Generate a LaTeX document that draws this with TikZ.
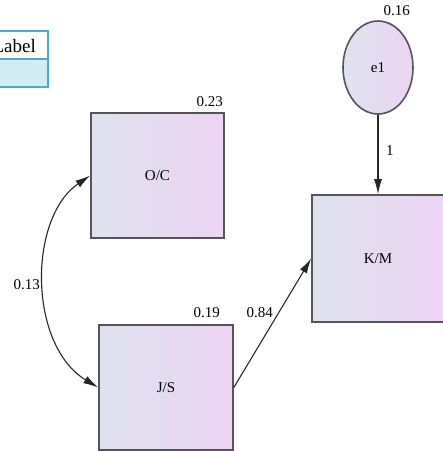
\documentclass[tikz,border=0pt]{standalone}
\usepackage{fontspec}
\setmainfont{Liberation Serif}
\usetikzlibrary{arrows.meta,shapes.geometric}
\definecolor{gradL}{HTML}{DEE2EE}
\definecolor{gradR}{HTML}{ECD4F2}
\definecolor{boxline}{HTML}{555558}
\definecolor{tabline}{HTML}{4BACC6}
\definecolor{tabfill}{HTML}{D3EBF2}
\tikzset{
  varbox/.style={rectangle, draw=boxline, line width=1.6pt, left color=gradL, right color=gradR, font=\fontsize{15}{18}\selectfont, inner sep=0pt},
  errnode/.style={ellipse, draw=boxline, line width=1.6pt, left color=gradL, right color=gradR, font=\fontsize{15}{18}\selectfont, inner sep=0pt, minimum width=70pt, minimum height=93pt},
  num/.style={font=\fontsize{15}{18}\selectfont, inner sep=0pt},
  conn/.style={draw=black!85, line width=1.1pt, -{Latex[length=15pt,width=8pt]}},
  biconn/.style={draw=black!85, line width=1.1pt, {Latex[length=15pt,width=8pt]}-{Latex[length=15pt,width=8pt]}},
  tabcell/.style={rectangle, draw=tabline, line width=2pt, minimum width=90pt, minimum height=28pt, inner sep=0pt, anchor=north east}
}
\begin{document}
\begin{tikzpicture}[x=1pt,y=-1pt]
\useasboundingbox (0,0) rectangle (443,451);
\clip (0,0) rectangle (443,451);
% label table
\node[tabcell, fill=white] (lhead) at (49,30) {};
\node[tabcell, fill=tabfill] (lcell) at (49,58) {};
\node[font=\fontsize{19}{22}\selectfont, inner sep=0pt, anchor=base east] (ltext) at (36,52) {Label};
% variables
\node[varbox, minimum width=133pt, minimum height=125pt] (OC) at (157.5,175.5) {O/C};
\node[varbox, minimum width=134pt, minimum height=125pt] (JS) at (166,387.5) {J/S};
\node[varbox, minimum width=132pt, minimum height=127pt] (KM) at (378,258.5) {K/M};
\node[errnode] (e1) at (378,67.5) {e1};
% connectors
\draw[conn] (e1.south) -- (KM.north);
\draw[conn] (JS.east) -- (KM.west);
\draw[biconn] (OC.west) .. controls (28,218) and (28,345) .. (JS.west);
% numbers
\node[num, anchor=base east] (n23) at (223,106) {0.23};
\node[num, anchor=base east] (n19) at (220,317) {0.19};
\node[num, anchor=base east] (n84) at (273,317) {0.84};
\node[num, anchor=base east] (n16) at (410,15) {0.16};
\node[num, anchor=base east] (n13) at (40,289) {0.13};
\node[num, anchor=base west] (n1) at (386,155) {1};
\end{tikzpicture}
\end{document}
